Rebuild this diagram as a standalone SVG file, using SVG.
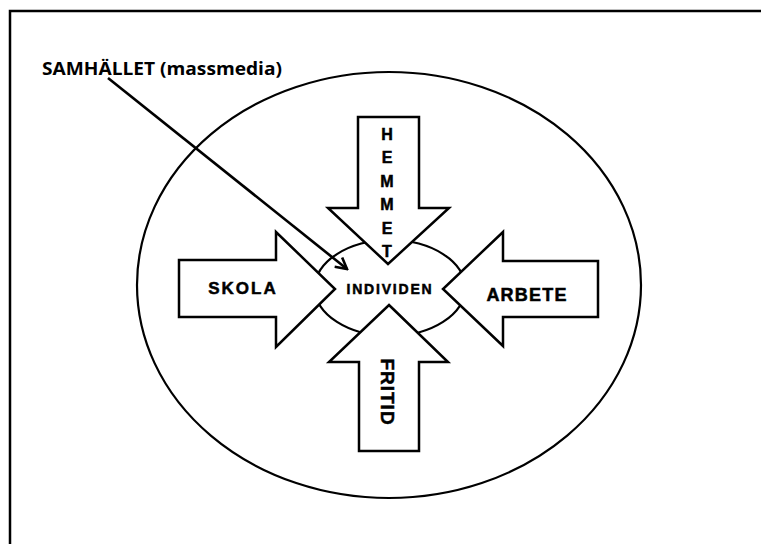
<svg xmlns="http://www.w3.org/2000/svg" width="761" height="544" viewBox="0 0 761 544">
  <style>
    .shape { fill: #ffffff; stroke: #000000; stroke-width: 2.5; stroke-linejoin: miter; }
    .ring { fill: none; stroke: #000000; stroke-width: 2.2; }
    .lbl { font-family: "Liberation Sans", Arial, sans-serif; font-weight: bold; fill: #000000; stroke: #000000; stroke-width: 0.5; }
    .title { font-family: "Open Sans", "Liberation Sans", sans-serif; font-weight: bold; font-size: 18px; fill: #000000; }
  </style>
  <defs>
    <marker id="openArrow" markerWidth="14" markerHeight="14" refX="12" refY="7" orient="auto" markerUnits="userSpaceOnUse">
      <polyline points="1,1 12,7 1,13" fill="none" stroke="#000000" stroke-width="2.6"/>
    </marker>
  </defs>
  <rect x="0" y="0" width="761" height="544" fill="#ffffff"/>
  <rect x="10" y="11" width="800" height="600" fill="none" stroke="#000000" stroke-width="2.5"/>

  <g id="samhallet">
    <ellipse cx="389" cy="285" rx="252" ry="213" class="ring"/>
    <text x="42" y="75" class="title" textLength="240" lengthAdjust="spacingAndGlyphs">SAMHÄLLET (massmedia)</text>
  </g>

  <g id="individen">
    <ellipse cx="390" cy="288" rx="75" ry="48" class="ring"/>
    <text x="390" y="294" class="lbl" font-size="14" letter-spacing="1.8" text-anchor="middle">INDIVIDEN</text>
  </g>

  <g id="hemmet">
    <polygon class="shape" points="358,117 419,117 419,208 449,208 388,264 328,208 358,208"/>
    <g class="lbl" font-size="16" text-anchor="middle">
      <text x="387" y="140">H</text>
      <text x="387" y="163">E</text>
      <text x="387" y="187">M</text>
      <text x="387" y="210">M</text>
      <text x="387" y="234">E</text>
      <text x="387" y="257">T</text>
    </g>
  </g>

  <g id="skola">
    <polygon class="shape" points="179,260 276,260 276,232 335,289 276,347 276,317 179,317"/>
    <text x="243" y="294" class="lbl" font-size="17" letter-spacing="2" text-anchor="middle">SKOLA</text>
  </g>

  <g id="arbete">
    <polygon class="shape" points="598,261 503,261 503,232 443,289 503,346 503,317 598,317"/>
    <text x="527" y="301" class="lbl" font-size="18" letter-spacing="1.2" text-anchor="middle">ARBETE</text>
  </g>

  <g id="fritid">
    <polygon class="shape" points="389,305 448,362 419,362 419,451 359,451 359,362 329,362"/>
    <text transform="translate(381,392) rotate(90)" x="0" y="0" class="lbl" font-size="19" letter-spacing="1" text-anchor="middle">FRITID</text>
  </g>

  <g id="connectors">
    <line x1="108" y1="78" x2="347" y2="269" stroke="#000000" stroke-width="2.6" marker-end="url(#openArrow)"/>
  </g>
</svg>
